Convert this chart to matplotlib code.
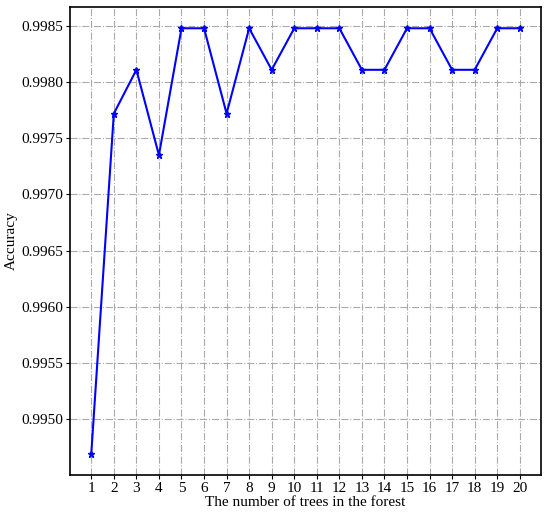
import matplotlib
matplotlib.use("Agg")
import matplotlib.pyplot as plt

trees = list(range(1, 21))
accuracy = [0.99469, 0.99772, 0.99811, 0.99735, 0.99848, 0.99848, 0.99772, 0.99848,
            0.99811, 0.99848, 0.99848, 0.99848, 0.99811, 0.99811, 0.99848, 0.99848,
            0.99811, 0.99811, 0.99848, 0.99848]
yticks = [0.9950, 0.9955, 0.9960, 0.9965, 0.9970, 0.9975, 0.9980, 0.9985]

plt.rcParams['font.family'] = ['Liberation Serif', 'DejaVu Serif']
fig = plt.figure(figsize=(5.5, 5.18), dpi=100)
ax = fig.add_axes([0.127, 0.083, 0.857, 0.9035])
ax.plot(trees, accuracy, color='blue', marker='*', markersize=5, linewidth=1.5)
ax.set_xticks(trees)
ax.set_yticks(yticks)
ax.set_yticklabels([f"{v:.4f}" for v in yticks])
ax.tick_params(labelsize=11, length=3, pad=2)
ax.grid(True, linestyle='-.', color='#aaaaaa', linewidth=0.8)
ax.set_xlabel("The number of trees in the forest", fontsize=11, labelpad=1)
ax.set_ylabel("Accuracy", fontsize=11, labelpad=2)
for s in ax.spines.values():
    s.set_linewidth(1.2)
fig.savefig("out.png", dpi=100)
